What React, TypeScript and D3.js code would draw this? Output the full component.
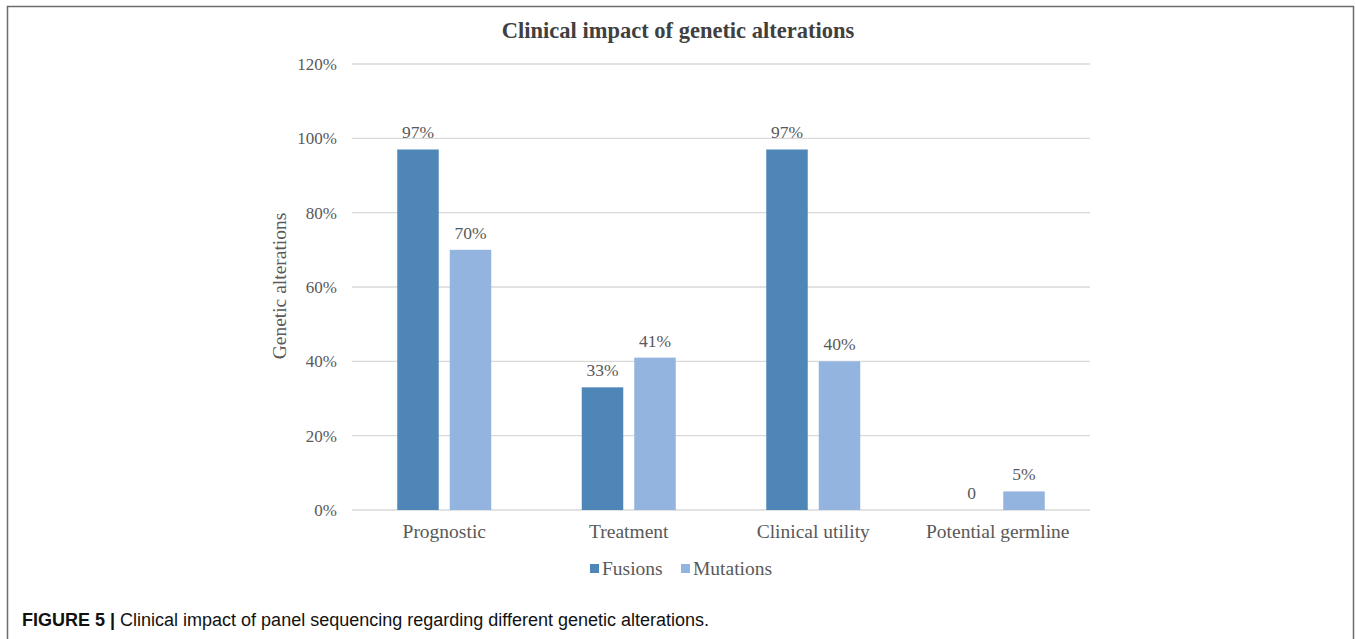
import React from "react";
import * as d3 from "d3";

// Chart data
const categories = ["Prognostic", "Treatment", "Clinical utility", "Potential germline"];
const seriesNames = ["Fusions", "Mutations"];
const fusions = [97, 33, 97, 0];
const mutations = [70, 41, 40, 5];
const fusionLabels = ["97%", "33%", "97%", "0"];
const mutationLabels = ["70%", "41%", "40%", "5%"];
const yTicks = [0, 20, 40, 60, 80, 100, 120];

const W = 1356;
const H = 639;
const SERIF = "'Liberation Serif', 'Times New Roman', serif";
const SANS = "'Liberation Sans', Arial, sans-serif";
const COLORS = ["#4F86B8", "#93B4DE"];
const TEXT = "#595959";

export default function App() {
  const plot = { left: 352, right: 1090, top: 64, bottom: 510 };
  const y = d3.scaleLinear().domain([0, 120]).range([plot.bottom, plot.top]);
  const x0 = d3.scaleBand<string>().domain(categories).range([plot.left, plot.right]).paddingInner(0).paddingOuter(0);
  const barW = 41.5;
  const gap = 11;
  const x1 = d3
    .scaleOrdinal<string, number>()
    .domain(seriesNames)
    .range([-gap / 2 - barW, gap / 2]);

  const series = [
    { name: seriesNames[0], values: fusions, labels: fusionLabels, color: COLORS[0] },
    { name: seriesNames[1], values: mutations, labels: mutationLabels, color: COLORS[1] },
  ];

  return (
    <div style={{ position: "absolute", left: 0, top: 0, width: W, height: H, background: "#fff" }}>
      <svg width={W} height={H} style={{ display: "block" }}>
        <rect x={0} y={0} width={W} height={H} fill="#fff" />
        {/* figure frame */}
        <path d={`M7.5,${H} V6.5 H1353.5 V${H}`} fill="none" stroke="#6b6b6b" strokeWidth={1.5} />

        <text x={678} y={38} textAnchor="middle" fontFamily={SERIF} fontWeight="bold" fontSize={22.5} fill="#404040">
          Clinical impact of genetic alterations
        </text>

        {/* gridlines and y ticks */}
        {yTicks.map((t) => (
          <g key={t}>
            <line x1={plot.left} x2={plot.right} y1={y(t)} y2={y(t)} stroke="#D9D9D9" strokeWidth={1.3} />
            <text x={337} y={y(t)} dy="0.35em" textAnchor="end" fontFamily={SERIF} fontSize={17} fill={TEXT}>
              {`${t}%`}
            </text>
          </g>
        ))}

        <text
          transform={`translate(286,${286}) rotate(-90)`}
          textAnchor="middle"
          fontFamily={SERIF}
          fontSize={19.5}
          fill={TEXT}
        >
          Genetic alterations
        </text>

        {/* bars */}
        {series.map((s) =>
          categories.map((c, i) => {
            const cx = (x0(c) as number) + x0.bandwidth() / 2;
            const bx = cx + x1(s.name);
            const v = s.values[i];
            return (
              <g key={s.name + c}>
                {v > 0 && (
                  <rect x={bx} y={y(v)} width={barW} height={y(0) - y(v)} fill={s.color} />
                )}
                <text
                  x={bx + barW / 2}
                  y={y(v) - 11}
                  textAnchor="middle"
                  fontFamily={SERIF}
                  fontSize={17.5}
                  fill={TEXT}
                >
                  {s.labels[i]}
                </text>
              </g>
            );
          })
        )}

        {/* category labels */}
        {categories.map((c) => (
          <text
            key={c}
            x={(x0(c) as number) + x0.bandwidth() / 2}
            y={538}
            textAnchor="middle"
            fontFamily={SERIF}
            fontSize={19.5}
            fill={TEXT}
          >
            {c}
          </text>
        ))}

        {/* legend */}
        {series.map((s, i) => {
          const lx = i === 0 ? 590 : 681;
          return (
            <g key={s.name}>
              <rect x={lx} y={564} width={9} height={9} fill={s.color} />
              <text x={lx + 12} y={575} fontFamily={SERIF} fontSize={19.5} fill={TEXT}>
                {s.name}
              </text>
            </g>
          );
        })}

        {/* caption */}
        <text x={22} y={626} fontFamily={SANS} fontSize={18} fill="#111">
          <tspan fontWeight="bold">FIGURE 5 | </tspan>
          <tspan>Clinical impact of panel sequencing regarding different genetic alterations.</tspan>
        </text>
      </svg>
    </div>
  );
}
